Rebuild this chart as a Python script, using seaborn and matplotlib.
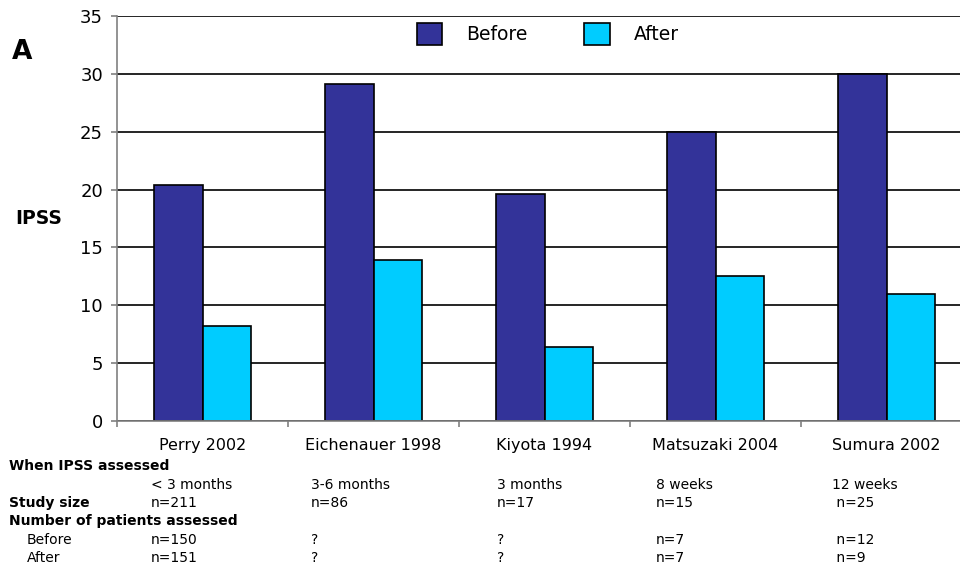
import pandas as pd
import matplotlib
matplotlib.use("Agg")
import matplotlib.pyplot as plt
import seaborn as sns

# --- data ---
studies = ["Perry 2002", "Eichenauer 1998", "Kiyota 1994", "Matsuzaki 2004", "Sumura 2002"]
ipss_before = [20.4, 29.1, 19.6, 25.0, 30.0]
ipss_after = [8.2, 13.9, 6.4, 12.5, 11.0]

when_assessed = ["< 3 months", "3-6 months", "3 months", "8 weeks", "12 weeks"]
study_size = ["n=211", "n=86", "n=17", "n=15", " n=25"]
n_before = ["n=150", "?", "?", "n=7", " n=12"]
n_after = ["n=151", "?", "?", "n=7", " n=9"]

df = pd.DataFrame({
    "Study": studies * 2,
    "IPSS": ipss_before + ipss_after,
    "When": ["Before"] * len(studies) + ["After"] * len(studies),
})

W, H = 960, 569
fig = plt.figure(figsize=(W / 100, H / 100), dpi=100)

# axis runs slightly past the right edge of the figure, like the original
ax_left, ax_right, ax_top, ax_bottom = 117, 972, 16, 421
ax = fig.add_axes([ax_left / W, 1 - ax_bottom / H,
                   (ax_right - ax_left) / W, (ax_bottom - ax_top) / H])

sns.barplot(data=df, x="Study", y="IPSS", hue="When",
            palette={"Before": "#333399", "After": "#00CCFF"},
            width=0.57, edgecolor="black", linewidth=1.2,
            saturation=1, errorbar=None, ax=ax)

ax.set_xlim(-0.5, len(studies) - 0.5)
ax.set_ylim(0, 35)
ax.set_yticks(range(0, 36, 5))
ax.yaxis.grid(True, color="black", linewidth=1.2)
ax.set_axisbelow(True)
for s in ["top", "right"]:
    ax.spines[s].set_visible(False)
ax.spines["left"].set_color("#808080")
ax.spines["bottom"].set_color("#808080")
ax.spines["left"].set_linewidth(1.2)
ax.spines["bottom"].set_linewidth(1.2)

ax.tick_params(axis="y", labelsize=13, length=4, width=1.2, color="#808080", pad=6)
ax.tick_params(axis="x", which="major", labelsize=11.5, length=0, pad=12)
ax.set_xticks([i - 0.5 for i in range(len(studies) + 1)], minor=True)
ax.tick_params(axis="x", which="minor", length=4, width=1.2, color="#808080")
ax.set_xlabel("")
ax.set_ylabel("")

leg = ax.legend(loc="center", bbox_to_anchor=(548 / W, 1 - 34 / H),
                bbox_transform=fig.transFigure, ncol=2, frameon=False,
                fontsize=13.5, handlelength=1.35, handleheight=1.35,
                handletextpad=1.3, columnspacing=3.0)
for h in leg.legend_handles:
    h.set_edgecolor("black")
    h.set_linewidth(1.2)


def ftext(x, y, s, **kw):
    fig.text(x / W, 1 - y / H, s, va="center", **kw)


ftext(12, 52, "A", fontsize=19, fontweight="bold")
ftext(15, 218, "IPSS", fontsize=13.5, fontweight="bold")

# table under the chart
ftext(9, 466, "When IPSS assessed", fontsize=10, fontweight="bold")
ftext(9, 503, "Study size", fontsize=10, fontweight="bold")
ftext(9, 521, "Number of patients assessed", fontsize=10, fontweight="bold")
ftext(27, 540, "Before", fontsize=10)
ftext(27, 558, "After", fontsize=10)

col_x = [151, 311, 497, 656, 832]
for i, x in enumerate(col_x):
    ftext(x, 485, when_assessed[i], fontsize=10)
    ftext(x, 503, study_size[i], fontsize=10)
    ftext(x, 540, n_before[i], fontsize=10)
    ftext(x, 558, n_after[i], fontsize=10)

fig.savefig("out.png", dpi=100)
